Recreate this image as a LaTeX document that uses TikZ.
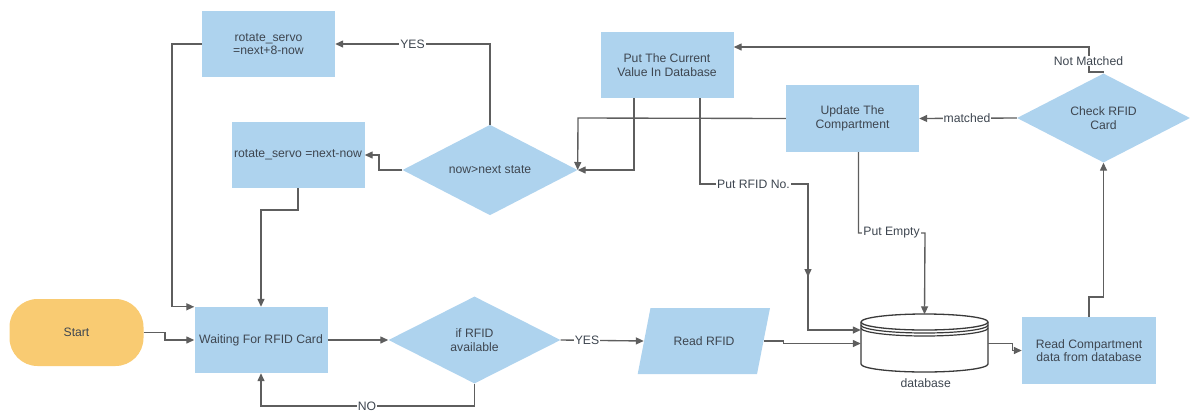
\documentclass[tikz,border=0pt]{standalone}
\usepackage{fontspec}
\setmainfont{Liberation Sans}
\usetikzlibrary{shapes.geometric,arrows.meta}
\definecolor{boxfill}{HTML}{AED3EE}
\definecolor{startfill}{HTML}{F9CB72}
\definecolor{txt}{HTML}{3E4650}
\definecolor{ln}{HTML}{5E5E5E}
\definecolor{dbline}{HTML}{3A3A3A}
\begin{document}
\begin{tikzpicture}[x=1pt,y=-1pt,
  font=\fontsize{12.2}{13.6}\selectfont, text=txt,
  procbox/.style={rectangle, fill=boxfill, minimum width=133pt, minimum height=66pt, align=center, inner sep=2pt},
  decision/.style={diamond, fill=boxfill, align=center, inner sep=0pt},
  startbox/.style={rectangle, rounded corners=28pt, fill=startfill, minimum width=134pt, minimum height=67pt, align=center},
  ghost/.style={rectangle, draw=none, align=center, inner sep=0pt},
  conn/.style={draw=ln, line width=1.35pt, -{Triangle[length=8pt,width=7pt]}},
  lbl/.style={fill=white, inner sep=1pt, text=txt}
]
\useasboundingbox (0,0) rectangle (1191,416);

% nodes
\node[startbox] (start) at (76.5,332.5) {Start};
\node[procbox] (wait) at (261,340) {Waiting For RFID Card};
\node[decision, minimum width=172pt, minimum height=87pt] (ifrfid) at (474.5,340) {if RFID\\available};
\fill[boxfill] (637.7,374) -- (757,374) -- (770,308) -- (650.5,308) -- cycle;
\node[ghost, minimum width=120pt, minimum height=66pt] (readrfid) at (704,341) {Read RFID};
\node[procbox] (rotate8) at (268.5,44) {rotate\_servo\\=next+8-now};
\node[procbox] (rotnn) at (298,155) {rotate\_servo =next-now};
\node[decision, minimum width=175pt, minimum height=88pt] (nownext) at (490,170) {now>next state};
\node[procbox] (putcur) at (667,65) {Put The Current\\Value In Database};
\node[procbox, minimum height=67pt] (update) at (852.5,118.5) {Update The\\Compartment};
\node[decision, minimum width=173pt, minimum height=88pt] (check) at (1103.5,118) {Check RFID\\Card};
\node[procbox, minimum width=134pt, minimum height=67pt] (readcomp) at (1089,350.5) {Read Compartment\\data from database};

% database cylinder
\filldraw[fill=white, draw=dbline, line width=1.3pt]
  (861,322) -- (861,364) arc[start angle=180, end angle=360, x radius=63.5pt, y radius=8pt]
  -- (988,322) arc[start angle=0, end angle=180, x radius=63.5pt, y radius=8pt] -- cycle;
\draw[draw=dbline, line width=1.3pt] (861,322) arc[start angle=180, end angle=360, x radius=63.5pt, y radius=8pt];
\draw[draw=dbline, line width=1.2pt] (861,325) arc[start angle=180, end angle=360, x radius=63.5pt, y radius=8pt];
\draw[draw=dbline, line width=1.2pt] (861,328) arc[start angle=180, end angle=360, x radius=63.5pt, y radius=8pt];
\node[ghost, minimum width=127pt, minimum height=58pt] (db) at (924.5,343.5) {};
\node[text=txt] (dblabel) at (925.7,383) {database};

% connectors
\draw[conn] (start.east) -- (165,332.5) |- (wait.west);
\draw[conn] (wait.east) -- (ifrfid.west);
\draw[conn] (ifrfid.south) -- (474.5,406) -| (wait.south);
\draw[conn] (ifrfid.east) -- (readrfid.west);
\draw[conn] (readrfid.east) -- (783.4,341) |- (db.west);
\draw[conn] (db.east) -- (1012.6,343.5) |- (readcomp.west);
\draw[conn] (readcomp.north) -- (1089,297) -| (check.south);
\draw[conn] (check.west) -- (update.east);
\draw[conn] (check.north) -- (1103.5,72) -- (1089,72) -- (1089,47) -- ([yshift=18pt]putcur.east);
\draw[conn] (update.west) -- (578,118) -- (nownext.east);
\draw[conn] ([xshift=-33pt]putcur.south) |- (nownext.east);
\draw[conn] ([xshift=33pt]putcur.south) -- (700,184) -- (808,184) -- (808,330) -- ([yshift=13.5pt]db.west);
\draw[conn] (808,260) -- (808,277);
\draw[conn] ([xshift=6pt]update.south) -- (858.5,233) -- (925,233) -- (db.north);
\draw[conn] (nownext.north) |- (rotate8.east);
\draw[conn] (nownext.west) -- (379,170) |- (rotnn.east);
\draw[conn] (rotate8.west) -- (172,44) |- (wait.north west);
\draw[conn] (rotnn.south) -- (298,210) -| (wait.north);

% labels
\node[lbl] (lno) at (367,406) {NO};
\node[lbl] (lyes1) at (587,340) {YES};
\node[lbl] (lyes2) at (412.5,44) {YES};
\node[lbl] (lmatched) at (967,118) {matched};
\node[lbl] (lnotm) at (1088.5,61) {Not Matched};
\node[lbl] (lrfidno) at (753.5,184) {Put RFID No.};
\node[lbl] (lempty) at (891.5,233) {Put Empty};
\end{tikzpicture}
\end{document}
